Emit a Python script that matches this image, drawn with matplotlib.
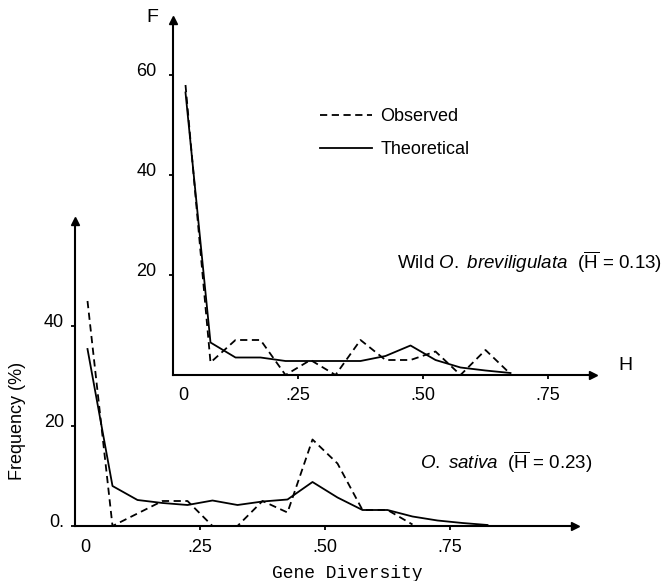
import matplotlib
matplotlib.use("Agg")
import matplotlib.pyplot as plt
import matplotlib.transforms as mtransforms

plt.rcParams["font.family"] = ["Liberation Sans", "DejaVu Sans"]
plt.rcParams["mathtext.fontset"] = "custom"
plt.rcParams["mathtext.rm"] = "Liberation Sans"
plt.rcParams["mathtext.it"] = "Liberation Sans:italic"

# wild O. breviligulata (upper panel)
wild_h = [0.025, 0.075, 0.125, 0.175, 0.225, 0.275, 0.325, 0.375, 0.425, 0.475, 0.525, 0.575, 0.625, 0.675]
wild_obs = [58, 2.5, 7, 7, 0, 3, 0, 7, 3, 3, 4.7, 0, 5, 0.2]
wild_theo = [56.5, 6.5, 3.5, 3.5, 2.8, 2.8, 2.8, 2.8, 3.8, 5.9, 3.0, 1.5, 0.9, 0.4]

# O. sativa (lower panel)
sat_h_obs = [0.025, 0.075, 0.125, 0.175, 0.225, 0.275, 0.325, 0.375, 0.425, 0.475, 0.525, 0.575, 0.625, 0.675]
sat_obs = [45, 0, 2.5, 5, 5, 0, 0, 5, 2.7, 17.3, 12.5, 3.2, 3.2, 0.3]
sat_h_theo = [0.025, 0.075, 0.125, 0.175, 0.225, 0.275, 0.325, 0.375, 0.425, 0.475, 0.525, 0.575,
              0.625, 0.675, 0.725, 0.775, 0.825]
sat_theo = [35.4, 8, 5.2, 4.6, 4.2, 5.1, 4.2, 4.9, 5.3, 8.8, 5.7, 3.2, 3.2, 1.9, 1.1, 0.6, 0.2]

x_ticks = [0.02, 0.25, 0.50, 0.75]
x_labels = ["0", ".25", ".50", ".75"]
low_yticks = [0, 20, 40]
low_ylabels = ["0.", "20", "40"]
up_yticks = [20, 40, 60]
up_ylabels = ["20", "40", "60"]

W, H = 661, 581
fig = plt.figure(figsize=(W / 100, H / 100), dpi=100)
fs = 13


def px_axes(left, top, right, bottom):
    return fig.add_axes([left / W, 1 - bottom / H, (right - left) / W, (bottom - top) / H])


def style(ax, xmax, ymax, yticks, ylabels, ypad):
    ax.set_facecolor("none")
    ax.set_xlim(0, xmax)
    ax.set_ylim(0, ymax)
    for s in ["top", "right"]:
        ax.spines[s].set_visible(False)
    for s in ["left", "bottom"]:
        ax.spines[s].set_linewidth(1.5)
    ax.set_xticks(x_ticks)
    ax.set_xticklabels(x_labels, fontsize=fs)
    ax.set_yticks(yticks)
    ax.set_yticklabels(ylabels, fontsize=fs)
    ax.tick_params(direction="out", length=3, width=1.3, pad=6)
    ax.tick_params(axis="y", pad=ypad)
    ax.xaxis.get_major_ticks()[0].tick1line.set_visible(False)
    shift = mtransforms.ScaledTranslation(0, 4 / 72, fig.dpi_scale_trans)
    for lab in ax.get_yticklabels():
        lab.set_transform(lab.get_transform() + shift)
    ax.plot(1, 0, ">k", transform=ax.get_yaxis_transform(), clip_on=False, markersize=6)
    ax.plot(0, 1, "^k", transform=ax.get_xaxis_transform(), clip_on=False, markersize=6)


# lower panel: x=0 at px 75, baseline at px 526, 500 px per unit H, 5 px per %
ax1 = px_axes(75, 526 - 61 * 5, 75 + 500 * 1.0, 526)
style(ax1, 1.0, 61, low_yticks, low_ylabels, 5)
ax1.plot(sat_h_obs, sat_obs, color="k", lw=1.3, dashes=(4, 2.5))
ax1.plot(sat_h_theo, sat_theo, color="k", lw=1.3)

# upper panel
ax2 = px_axes(173, 375 - 71 * 5, 173 + 500 * 0.84, 375)
style(ax2, 0.84, 71, up_yticks, up_ylabels, 9)
obs, = ax2.plot(wild_h, wild_obs, color="k", lw=1.3, dashes=(4, 2.5))
theo, = ax2.plot(wild_h, wild_theo, color="k", lw=1.3)
ax2.text(0.904, 2, "H", fontsize=fs + 1, ha="center", va="center", clip_on=False)
ax2.text(-0.042, 71.4, "F", fontsize=fs + 1, ha="center", va="center", clip_on=False)

fig.legend(handles=[obs, theo], labels=["Observed", "Theoretical"], loc="upper left",
           bbox_to_anchor=(320 / W, 1 - 108 / H), frameon=False, fontsize=fs,
           borderpad=0, borderaxespad=0, handlelength=2.9, handletextpad=0.45,
           labelspacing=0.9)

fig.text(397 / W, 1 - 262 / H, r"Wild $\mathit{O.\ breviligulata}$  ($\overline{\mathrm{H}}$ = 0.13)",
         fontsize=fs + 0.5, ha="left", va="center")
fig.text(420 / W, 1 - 462 / H, r"$\mathit{O.\ sativa}$  ($\overline{\mathrm{H}}$ = 0.23)",
         fontsize=fs + 0.5, ha="left", va="center")

fig.text(18 / W, 1 - 421 / H, "Frequency (%)", rotation=90, fontsize=fs, ha="center", va="center")
fig.text(347 / W, 1 - 573 / H, "Gene Diversity", fontsize=fs, ha="center", va="center",
         family=["Liberation Mono", "DejaVu Sans Mono"])

fig.savefig("out.png", dpi=100)
